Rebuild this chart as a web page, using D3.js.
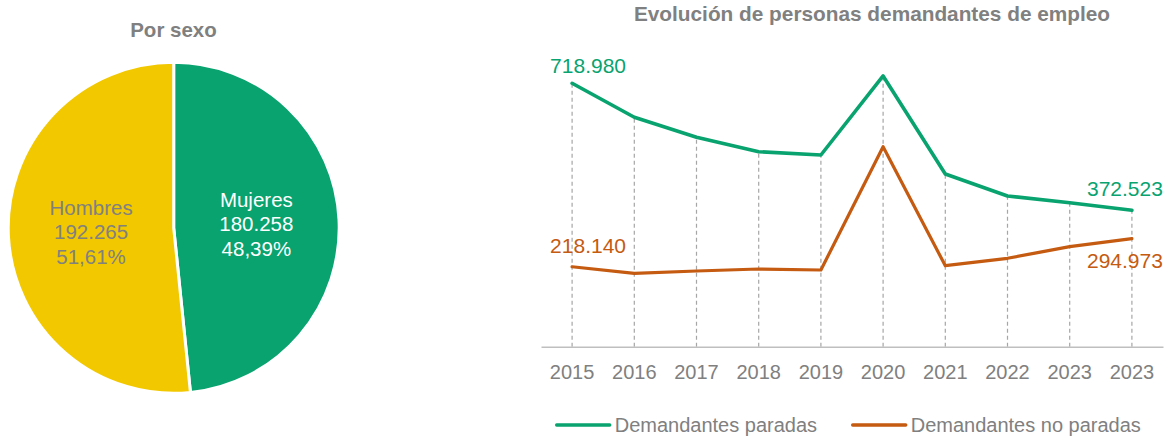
<!DOCTYPE html>
<html>
<head>
<meta charset="utf-8">
<script src="https://cdn.jsdelivr.net/npm/d3@7/dist/d3.min.js"></script>
<style>
  body { margin: 0; background: #fff; }
  text { font-family: "Liberation Sans", Arial, sans-serif; }
</style>
</head>
<body>
<div id="chart"></div>
<script>
// datos
const sexLabels = ['Mujeres', 'Hombres'];
const sexValues = [180258, 192265];

const years = ['2015', '2016', '2017', '2018', '2019', '2020', '2021', '2022', '2023', '2023'];
const paradas = [718980, 626170, 571580, 532270, 523260, 738900, 471400, 411350, 393060, 372523];
const noParadas = [218140, 200350, 206630, 212100, 209360, 545900, 221100, 241300, 272960, 294973];

const seriesNames = ['Demandantes paradas', 'Demandantes no paradas'];

document.addEventListener("DOMContentLoaded", function () {
  const width = 1175,
      height = 439;

  const green = "#08a36f",
      yellow = "#f2c800",
      orange = "#c55a11",
      grey = "#808080";

  const svg = d3.select("#chart").append("svg")
      .attr("width", width)
      .attr("height", height);

  const es = d3.formatLocale({ decimal: ",", thousands: ".", grouping: [3], currency: ["", " €"] });
  const fmtNum = es.format(",d");
  const fmtPct = es.format(".2%");

  // ---- pie: por sexo ----
  const cx = 173.7, cy = 227.8, r = 165.5;

  svg.append("text")
    .attr("x", 173.5)
    .attr("y", 36.5)
    .attr("text-anchor", "middle")
    .attr("font-size", 20.5)
    .attr("font-weight", "bold")
    .attr("fill", grey)
    .text("Por sexo");

  const total = d3.sum(sexValues);
  const pieData = d3.pie().sort(null)(sexValues);
  const arc = d3.arc().innerRadius(0).outerRadius(r);

  const pieG = svg.append("g").attr("transform", `translate(${cx},${cy})`);

  pieG.selectAll("path")
    .data(pieData)
    .enter().append("path")
    .attr("d", arc)
    .attr("fill", (d, i) => i === 0 ? green : yellow)
    .attr("stroke", "#fff")
    .attr("stroke-width", 3);

  const pieLabels = pieG.selectAll(".pie-label")
    .data(pieData)
    .enter().append("text")
    .attr("class", "pie-label")
    .attr("text-anchor", "middle")
    .attr("font-size", 20.5)
    .attr("fill", (d, i) => i === 0 ? "#fff" : grey)
    .attr("transform", d => `translate(${arc.centroid(d)})`);

  pieLabels.each(function (d, i) {
    const lines = [sexLabels[i], fmtNum(d.value), fmtPct(d.value / total)];
    d3.select(this).selectAll("tspan")
      .data(lines)
      .enter().append("tspan")
      .attr("x", 0)
      .attr("y", (t, j) => (j - 1) * 24.5 + 7.5)
      .text(t => t);
  });

  // ---- linea: evolucion ----
  svg.append("text")
    .attr("x", 872)
    .attr("y", 21)
    .attr("text-anchor", "middle")
    .attr("font-size", 20.8)
    .attr("font-weight", "bold")
    .attr("fill", grey)
    .text("Evolución de personas demandantes de empleo");

  const x = d3.scaleBand()
    .domain(d3.range(years.length))
    .range([541, 1163]);

  const y = d3.scaleLinear()
    .domain([0, 800000])
    .range([346.7, 53.6]);

  const px = i => x(i) + x.bandwidth() / 2;

  // lineas verticales discontinuas
  svg.selectAll(".drop")
    .data(years)
    .enter().append("line")
    .attr("class", "drop")
    .attr("x1", (d, i) => px(i))
    .attr("x2", (d, i) => px(i))
    .attr("y1", y(0))
    .attr("y2", (d, i) => y(Math.max(paradas[i], noParadas[i])))
    .attr("stroke", "#a6a6a6")
    .attr("stroke-width", 1.2)
    .attr("stroke-dasharray", "4,3");

  // eje x
  const xAxis = svg.append("g")
    .attr("transform", `translate(0,${y(0)})`)
    .call(d3.axisBottom(x).tickSize(0).tickPadding(18).tickFormat(i => years[i]));
  xAxis.select(".domain")
    .attr("stroke", "#bfbfbf")
    .attr("stroke-width", 1.5);
  xAxis.selectAll("text")
    .attr("font-size", 20)
    .attr("font-family", "Liberation Sans, Arial, sans-serif")
    .attr("fill", grey);

  const line = d3.line()
    .x((d, i) => px(i))
    .y(d => y(d));

  svg.append("path")
    .datum(noParadas)
    .attr("fill", "none")
    .attr("stroke", orange)
    .attr("stroke-width", 3.2)
    .attr("stroke-linejoin", "round")
    .attr("stroke-linecap", "round")
    .attr("d", line);

  svg.append("path")
    .datum(paradas)
    .attr("fill", "none")
    .attr("stroke", green)
    .attr("stroke-width", 3.6)
    .attr("stroke-linejoin", "round")
    .attr("stroke-linecap", "round")
    .attr("d", line);

  // etiquetas de datos (primero y ultimo)
  const last = years.length - 1;
  const dataLabels = [
    { v: paradas[0], i: 0, c: green, dx: -22, dy: -10, anchor: "start" },
    { v: paradas[last], i: last, c: green, dx: 31, dy: -14, anchor: "end" },
    { v: noParadas[0], i: 0, c: orange, dx: -22, dy: -14, anchor: "start" },
    { v: noParadas[last], i: last, c: orange, dx: 31, dy: 29, anchor: "end" }
  ];

  svg.selectAll(".data-label")
    .data(dataLabels)
    .enter().append("text")
    .attr("class", "data-label")
    .attr("x", d => px(d.i) + d.dx)
    .attr("y", d => y(d.v) + d.dy)
    .attr("text-anchor", d => d.anchor)
    .attr("font-size", 21)
    .attr("fill", d => d.c)
    .text(d => fmtNum(d.v));

  // leyenda
  const legend = [
    { name: seriesNames[0], c: green, x: 556.7 },
    { name: seriesNames[1], c: orange, x: 852.7 }
  ];
  const lg = svg.selectAll(".legend")
    .data(legend)
    .enter().append("g")
    .attr("class", "legend")
    .attr("transform", d => `translate(${d.x},425)`);
  lg.append("line")
    .attr("x1", 0).attr("x2", 53)
    .attr("stroke", d => d.c)
    .attr("stroke-width", 3.5)
    .attr("stroke-linecap", "round");
  lg.append("text")
    .attr("x", 58)
    .attr("y", 7)
    .attr("font-size", 20)
    .attr("fill", grey)
    .text(d => d.name);
});
</script>
</body>
</html>
